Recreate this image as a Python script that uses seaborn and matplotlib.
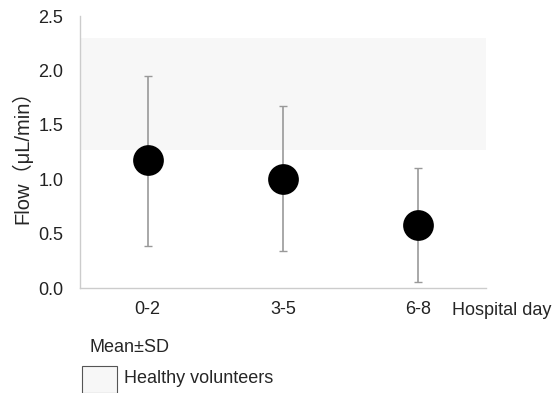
import matplotlib
matplotlib.use('Agg')
import matplotlib.pyplot as plt
import seaborn as sns
import pandas as pd
from matplotlib.patches import Rectangle

days = ['0-2', '3-5', '6-8']
flow_mean = [1.18, 1.00, 0.58]
flow_sd_upper = [1.95, 1.67, 1.10]
flow_sd_lower = [0.39, 0.34, 0.06]
healthy_range = [1.27, 2.30]
y_ticks = [0.0, 0.5, 1.0, 1.5, 2.0, 2.5]


def main():
    sns.set_style('white')
    plt.rcParams['font.family'] = ['Liberation Sans', 'Noto Sans CJK JP', 'DejaVu Sans']

    df = pd.DataFrame({'day': days, 'mean': flow_mean,
                       'hi': flow_sd_upper, 'lo': flow_sd_lower})

    fig = plt.figure(figsize=(5.6, 3.93), dpi=100)
    ax = fig.add_axes([0.143, 0.267, 0.725, 0.692])

    # healthy volunteers band
    ax.axhspan(healthy_range[0], healthy_range[1], color='#f7f7f7', zorder=0, lw=0)

    x = range(len(days))
    ax.errorbar(x, df['mean'],
                yerr=[df['mean'] - df['lo'], df['hi'] - df['mean']],
                fmt='none', ecolor='#999999', elinewidth=1.2, capsize=3, capthick=1, zorder=2)
    sns.scatterplot(data=df, x='day', y='mean', ax=ax, color='black', s=420,
                    edgecolor='black', zorder=3, legend=False)

    ax.set_xlim(-0.5, 2.5)
    ax.set_ylim(0, 2.5)
    ax.set_yticks(y_ticks)
    ax.set_yticklabels([f'{v:.1f}' for v in y_ticks])
    ax.set_xticks(list(x))
    ax.set_xticklabels(days)
    ax.tick_params(axis='both', length=0, labelsize=13, labelcolor='#222222')
    ax.tick_params(axis='x', pad=9)
    ax.tick_params(axis='y', pad=12)
    ax.set_xlabel('')
    ax.set_ylabel('Flow（μL/min）', fontsize=14.5, labelpad=4)

    for side in ['top', 'right']:
        ax.spines[side].set_visible(False)
    for side in ['left', 'bottom']:
        ax.spines[side].set_color('#cccccc')
        ax.spines[side].set_linewidth(1)

    fig.text(0.807, 0.211, 'Hospital day', fontsize=13, va='center', ha='left')
    fig.text(0.16, 0.117, 'Mean±SD', fontsize=13, va='center', ha='left')
    fig.patches.append(Rectangle((0.147, 0.0), 0.062, 0.068, transform=fig.transFigure,
                                 facecolor='#f7f7f7', edgecolor='#555555', lw=0.8))
    fig.text(0.222, 0.038, 'Healthy volunteers', fontsize=13, va='center', ha='left')

    fig.savefig('out.png', dpi=100)
    plt.close(fig)


if __name__ == '__main__':
    main()
